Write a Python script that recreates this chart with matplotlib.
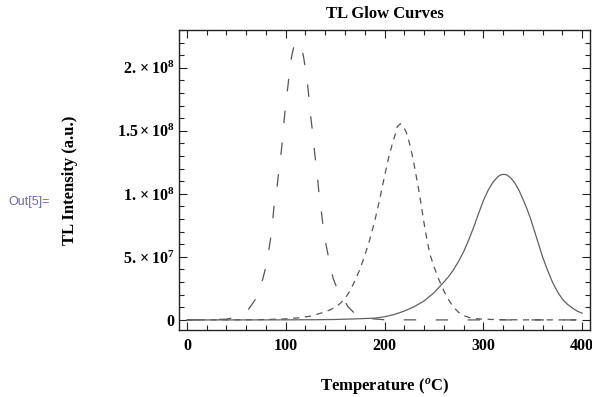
import numpy as np
import matplotlib
matplotlib.use('Agg')
import matplotlib.pyplot as plt
from matplotlib.ticker import MultipleLocator

# glow curve readings, intensity in units of 1e6
T_low = [0, 20, 40, 50, 55, 62, 70, 77, 80.5, 84, 86, 88, 90.5, 93, 95, 97, 98.5,
         100.5, 102.5, 104, 106, 108, 110, 112, 114, 116, 118, 120, 122, 123.5,
         125.5, 127.5, 129.5, 131.5, 133.5, 135.5, 138, 140.5, 144.5, 148, 152,
         157, 163, 170, 180, 200, 250, 300, 350, 400]
I_low = [0, 0.05, 0.6, 2.2, 4, 8, 17, 33, 44, 61, 71, 89, 100, 118, 130, 145, 159,
         175, 187, 199, 209, 216, 219.5, 220.5, 219.5, 216, 209, 199, 188, 176,
         160, 147, 131, 119, 102, 90, 73, 61, 45, 33, 25,
         18.5, 10.5, 5, 1.5, 0.1, 0, 0, 0, 0]

T_mid = [0, 60, 80, 100, 115, 125, 132, 140, 145, 150, 155, 160, 165, 170, 175,
         180, 185, 190, 195, 200, 204, 208, 211, 213, 216, 219, 222, 225, 228,
         231, 234, 237, 240, 243, 246, 250, 254, 258, 262, 266, 270, 275, 280,
         287, 295, 310, 340, 400]
I_mid = [0, 0.1, 0.3, 0.8, 1.8, 3, 4.5, 6.5, 8, 10, 13, 17, 23, 31, 40,
         51, 63.5, 78, 95, 114, 128, 140, 147.5, 153.5, 155.5, 153.5, 149, 141, 131,
         119, 106, 92, 77, 63.5, 52, 42.5, 34, 26.5, 20, 14.5, 10, 6, 3.5,
         1.6, 0.8, 0.3, 0.05, 0]

T_high = [0, 50, 100, 130, 150, 170, 180, 190, 200, 210, 220, 230, 240, 250, 260,
          265, 270, 275, 280, 285, 290, 295, 300, 305, 310, 315, 318, 321, 324,
          328, 332, 336, 340, 344, 348, 352, 356, 360, 365, 370, 375, 380, 385,
          390, 395, 400]
I_high = [0, 0, 0.05, 0.15, 0.35, 0.8, 1.1, 1.4, 2.5, 4.3, 7, 10.5, 15, 21.5, 30,
          34.5, 40, 46.5, 54, 63, 73, 84, 94.5, 103, 109.5, 113.8, 115.2, 115.5, 115,
          112.5, 108.5, 103, 96, 88.5, 80, 70, 60, 50, 39.5, 30, 22.5, 16.5, 12.5,
          9.5, 7, 5.3]

y_ticks = [0, 50, 100, 150, 200]
y_ticklabels = ['0', r'$5.\times10^{7}$', r'$1.\times10^{8}$',
                r'$1.5\times10^{8}$', r'$2.\times10^{8}$']
x_ticks = [0, 100, 200, 300, 400]

plt.rcParams['font.family'] = 'Liberation Serif'
plt.rcParams['font.weight'] = 'bold'
plt.rcParams['mathtext.fontset'] = 'custom'
plt.rcParams['mathtext.rm'] = 'Liberation Serif:bold'
plt.rcParams['mathtext.it'] = 'Liberation Serif:italic:bold'
plt.rcParams['mathtext.bf'] = 'Liberation Serif:bold'
plt.rcParams['lines.scale_dashes'] = False

fig = plt.figure(figsize=(5.92, 3.97), dpi=100)
ax = fig.add_axes([179/592, 1-330/397, 411/592, 300/397])

col = '#555555'
ax.plot(T_low, I_low, color=col, lw=0.9, ls=(0, (9, 14)))
ax.plot(T_mid, I_mid, color=col, lw=0.9, ls=(0, (4.5, 4)))
ax.plot(T_high, I_high, color='#606060', lw=0.9, ls='-')

ax.set_xlim(-8, 408)
ax.set_ylim(-8, 230)

ax.set_xticks(x_ticks)
ax.set_yticks(y_ticks)
ax.set_yticklabels(y_ticklabels)
ax.xaxis.set_minor_locator(MultipleLocator(20))
ax.yaxis.set_minor_locator(MultipleLocator(10))
ax.tick_params(which='both', direction='in', top=True, right=True,
               labelsize=11.5, width=0.8, color='#222222')
ax.tick_params(which='major', length=6)
ax.tick_params(which='minor', length=3.5)
ax.tick_params(axis='x', pad=6)
ax.tick_params(axis='y', pad=3)
for s in ax.spines.values():
    s.set_linewidth(1.0)
    s.set_color('#222222')

ax.set_title('TL Glow Curves', fontsize=12, fontweight='bold', pad=8.5)
ax.set_xlabel(r'Temperature ($^{o}$C)', fontsize=12, fontweight='bold')
ax.xaxis.set_label_coords(0.5, -0.155)
ax.set_ylabel('TL Intensity (a.u.)', fontsize=12, fontweight='bold')
ax.yaxis.set_label_coords(-0.245, 0.5)

fig.text(8/592, 1-202/397, 'Out[5]=', family='Liberation Sans', fontweight='normal',
         fontsize=9, color='#6a6aa8', ha='left', va='center')

fig.savefig('out.png', dpi=100)
